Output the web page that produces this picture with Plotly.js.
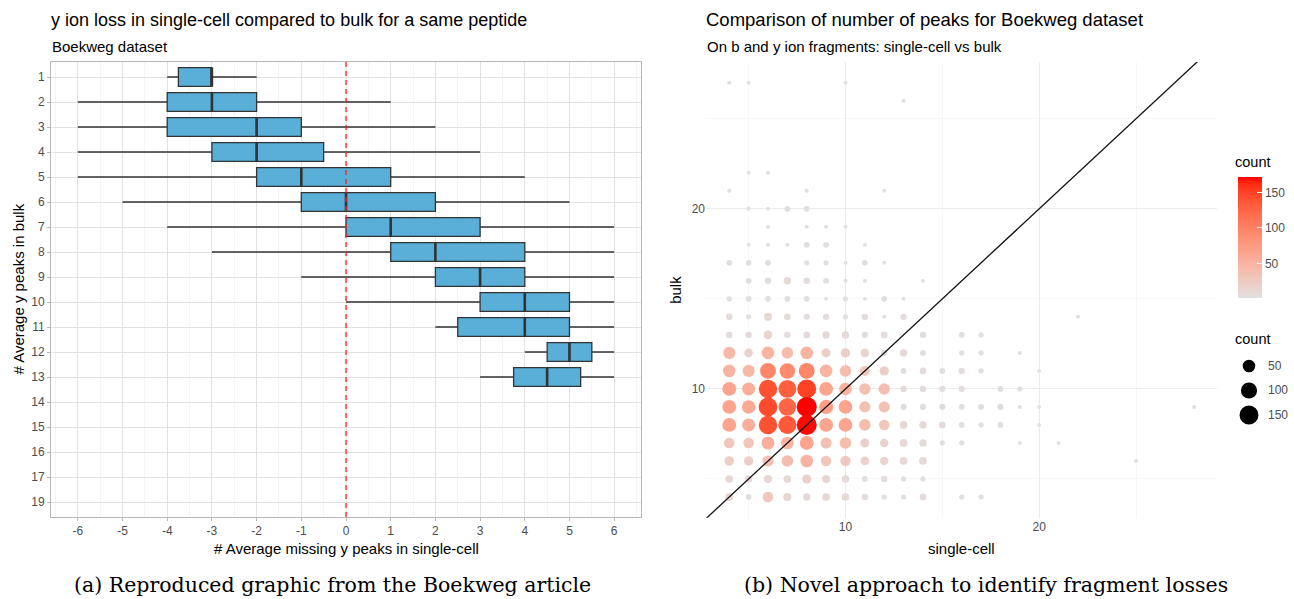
<!DOCTYPE html>
<html>
<head>
<meta charset="utf-8">
<script src="https://cdn.plot.ly/plotly-3.0.1.min.js"></script>
<style>html,body{margin:0;padding:0;background:#fff;}#chart{width:1294px;height:599px;}</style>
</head>
<body>
<div id="chart"></div>
<script>
// ---------- DATA: (a) boxplot ----------
const boxCategories = ['1','2','3','4','5','6','7','8','9','10','11','12','13','14','15','16','17','19'];
const boxLower  = [-4, -6, -6, -6, -6, -5, -4, -3, -1, 0, 2, 4, 3];
const boxQ1     = [-3.75, -4, -4, -3, -2, -1, 0, 1, 2, 3, 2.5, 4.5, 3.75];
const boxMedian = [-3, -3, -2, -2, -1, 0, 1, 2, 3, 4, 4, 5, 4.5];
const boxQ3     = [-3, -2, -1, -0.5, 1, 2, 3, 4, 4, 5, 5, 5.5, 5.25];
const boxUpper  = [-2, 1, 2, 3, 4, 5, 6, 6, 6, 6, 6, 6, 6];
const xTicksA   = [-6,-5,-4,-3,-2,-1,0,1,2,3,4,5,6];
const refLineX  = 0;

// ---------- DATA: (b) count scatter (single-cell x, bulk y, count) ----------
const scX = [
  4,5,10,                                   // y=27
  13,                                       // y=26
  5,6,                                      // y=22
  4,8,12,                                   // y=21
  5,6,7,8,                                  // y=20
  6,8,9,10,                                 // y=19
  5,6,7,8,9,11,                             // y=18
  4,5,6,8,9,10,11,12,                       // y=17
  5,6,7,8,9,10,11,14,                       // y=16
  4,5,6,7,8,9,10,11,12,13,                  // y=15
  4,5,6,7,8,9,10,11,12,13,22,               // y=14
  4,5,6,7,8,9,10,11,12,14,16,17,            // y=13
  4,5,6,7,8,9,10,11,12,13,14,16,17,19,      // y=12
  4,5,6,7,8,9,10,11,12,13,14,15,16,17,20,   // y=11
  4,5,6,7,8,9,10,11,12,13,14,15,16,18,19,   // y=10
  4,5,6,7,8,9,10,11,12,13,14,15,16,17,18,19,20,28, // y=9
  4,5,6,7,8,9,10,11,12,13,14,15,16,17,18,20,// y=8
  4,5,6,7,8,9,10,11,12,13,14,15,16,19,21,   // y=7
  4,5,6,7,8,9,10,11,12,13,14,25,            // y=6
  4,5,6,7,8,9,10,11,12,13,14,               // y=5
  4,5,6,7,8,9,10,11,12,13,14,16,17          // y=4
];
const scY = [
  27,27,27,
  26,
  22,22,
  21,21,21,
  20,20,20,20,
  19,19,19,19,
  18,18,18,18,18,18,
  17,17,17,17,17,17,17,17,
  16,16,16,16,16,16,16,16,
  15,15,15,15,15,15,15,15,15,15,
  14,14,14,14,14,14,14,14,14,14,14,
  13,13,13,13,13,13,13,13,13,13,13,13,
  12,12,12,12,12,12,12,12,12,12,12,12,12,12,
  11,11,11,11,11,11,11,11,11,11,11,11,11,11,11,
  10,10,10,10,10,10,10,10,10,10,10,10,10,10,10,
  9,9,9,9,9,9,9,9,9,9,9,9,9,9,9,9,9,9,
  8,8,8,8,8,8,8,8,8,8,8,8,8,8,8,8,
  7,7,7,7,7,7,7,7,7,7,7,7,7,7,7,
  6,6,6,6,6,6,6,6,6,6,6,6,
  5,5,5,5,5,5,5,5,5,5,5,
  4,4,4,4,4,4,4,4,4,4,4,4,4
];
const scCount = [
  1,1,1,
  1,
  1,1,
  1,1,1,
  1,1,3,3,
  1,1,1,1,
  1,1,1,3,3,1,
  3,3,3,2,2,1,3,1,
  3,5,9,5,3,1,1,1,
  2,3,3,3,3,1,2,1,3,1,
  6,2,12,6,4,5,2,5,1,5,1,
  5,5,15,5,6,8,8,4,6,5,3,2,
  45,15,50,40,50,18,20,15,4,8,3,2,2,1,
  50,45,95,90,95,50,40,25,20,3,6,3,5,2,1,
  65,55,140,130,150,65,50,38,38,5,5,4,4,3,2,
  65,60,145,125,172,70,65,35,35,4,4,4,3,3,4,1,1,1,
  65,55,140,135,170,65,65,40,30,10,8,6,3,2,3,1,
  30,30,55,50,65,35,40,18,15,10,8,2,2,1,1,
  22,20,35,40,50,30,28,16,14,10,10,1,
  10,8,12,10,18,12,8,3,5,2,2,
  12,3,30,12,8,10,10,5,2,2,6,2,2
];
const legendCounts = [50, 100, 150];
const xTicksB = [10, 20];
const yTicksB = [10, 20];

// ---------- layout helpers ----------
const W = 1294, H = 599;
const px = p => p / W;
const py = p => 1 - p / H;
const FONT = 'Liberation Sans, Arial, sans-serif';
const SERIF = 'DejaVu Serif, Liberation Serif, serif';
const TICKCOL = '#4D4D4D';
const panelA = {l: 51, r: 641, t: 62, b: 517};
const panelB = {l: 706, r: 1217.4, t: 62, b: 517.7};

// ---------- Lab colour interpolation (grey -> red) ----------
function lin(c){c/=255;return c<=0.04045?c/12.92:Math.pow((c+0.055)/1.055,2.4);}
function unlin(c){c=c<=0.0031308?12.92*c:1.055*Math.pow(c,1/2.4)-0.055;return Math.max(0,Math.min(255,Math.round(c*255)));}
function hexToRgb(h){return [parseInt(h.slice(1,3),16),parseInt(h.slice(3,5),16),parseInt(h.slice(5,7),16)];}
const WP=[0.95047,1,1.08883];
function f(t){return t>0.008856?Math.cbrt(t):7.787*t+16/116;}
function finv(t){return t*t*t>0.008856?t*t*t:(t-16/116)/7.787;}
function toLab(rgb){const [r,g,b]=rgb.map(lin);
  const X=(0.4124*r+0.3576*g+0.1805*b)/WP[0],Y=(0.2126*r+0.7152*g+0.0722*b)/WP[1],Z=(0.0193*r+0.1192*g+0.9505*b)/WP[2];
  return [116*f(Y)-16,500*(f(X)-f(Y)),200*(f(Y)-f(Z))];}
function fromLab(l){const fy=(l[0]+16)/116,fx=fy+l[1]/500,fz=fy-l[2]/200;
  const X=finv(fx)*WP[0],Y=finv(fy)*WP[1],Z=finv(fz)*WP[2];
  const r=3.2406*X-1.5372*Y-0.4986*Z,g=-0.9689*X+1.8758*Y+0.0415*Z,b=0.0557*X-0.2040*Y+1.0570*Z;
  return 'rgb('+unlin(r)+','+unlin(g)+','+unlin(b)+')';}
const lowLab = toLab(hexToRgb('#E0E0E0')), highLab = toLab(hexToRgb('#FF0000'));
const colorscale = [];
for (let i = 0; i <= 20; i++) {
  const t = i / 20;
  colorscale.push([t, fromLab(lowLab.map((v, k) => v + (highLab[k] - v) * t))]);
}

const cMin = Math.min(...scCount), cMax = Math.max(...scCount);
const sizeOf = v => 4 + 16 * Math.sqrt(Math.max(0, v - cMin) / (cMax - cMin));

// ---------- traces ----------
const boxIdx = boxMedian.map((_, i) => i);
const boxWidth = 0.75;
const boxTrace = {
  type: 'box', orientation: 'h', xaxis: 'x', yaxis: 'y',
  y: boxIdx, q1: boxQ1, median: boxMedian, q3: boxQ3,
  lowerfence: boxLower, upperfence: boxUpper,
  width: boxWidth, whiskerwidth: 0, boxpoints: false,
  fillcolor: '#59AFD8', line: {color: '#333333', width: 1.3},
  hoverinfo: 'skip', showlegend: false
};
const medX = [], medY = [];
boxMedian.forEach((m, i) => { medX.push(m, m, null); medY.push(i - boxWidth/2, i + boxWidth/2, null); });
const medianTrace = {
  type: 'scatter', mode: 'lines', xaxis: 'x', yaxis: 'y',
  x: medX, y: medY, line: {color: '#333333', width: 2.6},
  hoverinfo: 'skip', showlegend: false
};

const scatterTrace = {
  type: 'scatter', mode: 'markers', xaxis: 'x2', yaxis: 'y2',
  x: scX, y: scY,
  marker: {
    color: scCount, colorscale: colorscale, cmin: cMin, cmax: cMax,
    size: scCount.map(sizeOf), line: {width: 0}, opacity: 1,
    colorbar: {
      x: px(1238), xanchor: 'left', xpad: 0,
      y: py(177), yanchor: 'top', ypad: 0,
      lenmode: 'pixels', len: 121, thickness: 24, outlinewidth: 0,
      tickvals: legendCounts, ticks: 'inside', ticklen: 5, tickcolor: '#ffffff', tickwidth: 1,
      tickfont: {family: FONT, size: 12, color: TICKCOL},
      title: {text: ''}
    }
  },
  hoverinfo: 'skip', showlegend: false
};

// ---------- shapes ----------
const shapes = [
  {type: 'line', xref: 'x', yref: 'y domain', x0: refLineX, x1: refLineX, y0: 0, y1: 1,
   line: {color: '#FF2020', width: 1.3, dash: '5px,4px'}, layer: 'above'},
  {type: 'line', xref: 'x2', yref: 'y2', x0: 2.8, y0: 2.8, x1: 29.2, y1: 29.2,
   line: {color: '#111111', width: 1.3}, layer: 'above'}
];
const legTop = 366, legStep = 24.5, legX = 1249;
const annotations = [];
legendCounts.forEach((v, i) => {
  const d = sizeOf(v), yc = legTop + i * legStep;
  shapes.push({type: 'circle', xref: 'paper', yref: 'paper', xsizemode: 'pixel', ysizemode: 'pixel',
    xanchor: px(legX), yanchor: py(yc), x0: -d/2, x1: d/2, y0: -d/2, y1: d/2,
    fillcolor: '#000000', line: {width: 0}});
  annotations.push({xref: 'paper', yref: 'paper', x: px(1266), y: py(yc), xanchor: 'left', yanchor: 'middle',
    text: String(v), showarrow: false, font: {family: FONT, size: 12, color: TICKCOL}});
});

function ann(text, x, y, size, opts) {
  return Object.assign({xref: 'paper', yref: 'paper', x: px(x), y: py(y), text: text, showarrow: false,
    xanchor: 'left', yanchor: 'middle', font: {family: FONT, size: size, color: '#000000'}}, opts || {});
}
annotations.push(
  ann('y ion loss in single-cell compared to bulk for a same peptide', 49, 20, 18),
  ann('Boekweg dataset', 50, 46, 15),
  ann('Comparison of number of peaks for Boekweg dataset', 704, 20, 18.5),
  ann('On b and y ion fragments: single-cell vs bulk', 705, 46, 15),
  ann('# Average missing y peaks in single-cell', (panelA.l + panelA.r) / 2, 548, 15, {xanchor: 'center'}),
  ann('# Average y peaks in bulk', 18, (panelA.t + panelA.b) / 2, 15, {xanchor: 'center', textangle: -90}),
  ann('single-cell', (panelB.l + panelB.r) / 2, 548, 15, {xanchor: 'center'}),
  ann('bulk', 676, (panelB.t + panelB.b) / 2, 15, {xanchor: 'center', textangle: -90}),
  ann('count', 1233, 162, 14.5),
  ann('count', 1233, 339, 14.5),
  ann('(a) Reproduced graphic from the Boekweg article', 332, 585, 20.5, {xanchor: 'center', font: {family: SERIF, size: 20.5, color: '#000'}}),
  ann('(b) Novel approach to identify fragment losses', 986, 585, 20.5, {xanchor: 'center', font: {family: SERIF, size: 20.5, color: '#000'}})
);

const tf = () => ({family: FONT, size: 12, color: TICKCOL});
const layout = {
  width: W, height: H, margin: {l: 0, r: 0, t: 0, b: 0},
  paper_bgcolor: '#ffffff', plot_bgcolor: 'rgba(0,0,0,0)',
  showlegend: false,
  xaxis: {
    domain: [px(panelA.l), px(panelA.r)], anchor: 'y', range: [-6.6, 6.6],
    tickmode: 'array', tickvals: xTicksA, ticktext: xTicksA.map(String),
    showgrid: true, gridcolor: '#E2E2E2', gridwidth: 1,
    minor: {dtick: 0.5, tick0: 0, showgrid: true, gridcolor: '#EDEDED', gridwidth: 0.6},
    zeroline: false, showline: true, mirror: true, linecolor: '#B8B8B8', linewidth: 1,
    ticks: 'outside', ticklen: 3, tickcolor: '#B8B8B8', tickfont: tf(), color: TICKCOL
  },
  yaxis: {
    domain: [py(panelA.b), py(panelA.t)], anchor: 'x', range: [boxCategories.length - 0.4, -0.6],
    tickmode: 'array', tickvals: boxCategories.map((_, i) => i), ticktext: boxCategories,
    showgrid: true, gridcolor: '#E2E2E2', gridwidth: 1,
    zeroline: false, showline: true, mirror: true, linecolor: '#B8B8B8', linewidth: 1,
    ticks: 'outside', ticklen: 3, tickcolor: '#B8B8B8', tickfont: tf(), color: TICKCOL
  },
  xaxis2: {
    domain: [px(panelB.l), px(panelB.r)], anchor: 'y2', range: [2.8, 29.2],
    tickmode: 'array', tickvals: xTicksB,
    showgrid: true, gridcolor: '#EBEBEB', gridwidth: 1,
    minor: {dtick: 5, tick0: 0, showgrid: true, gridcolor: '#F3F3F3', gridwidth: 0.7},
    zeroline: false, showline: false, ticks: '', tickfont: tf(), color: TICKCOL
  },
  yaxis2: {
    domain: [py(panelB.b), py(panelB.t)], anchor: 'x2', range: [2.85, 28.15],
    tickmode: 'array', tickvals: yTicksB,
    showgrid: true, gridcolor: '#EBEBEB', gridwidth: 1,
    minor: {dtick: 5, tick0: 0, showgrid: true, gridcolor: '#F3F3F3', gridwidth: 0.7},
    zeroline: false, showline: false, ticks: '', tickfont: tf(), color: TICKCOL
  },
  shapes: shapes,
  annotations: annotations
};

Plotly.newPlot('chart', [boxTrace, medianTrace, scatterTrace], layout, {displayModeBar: false, staticPlot: true});
</script>
</body>
</html>
